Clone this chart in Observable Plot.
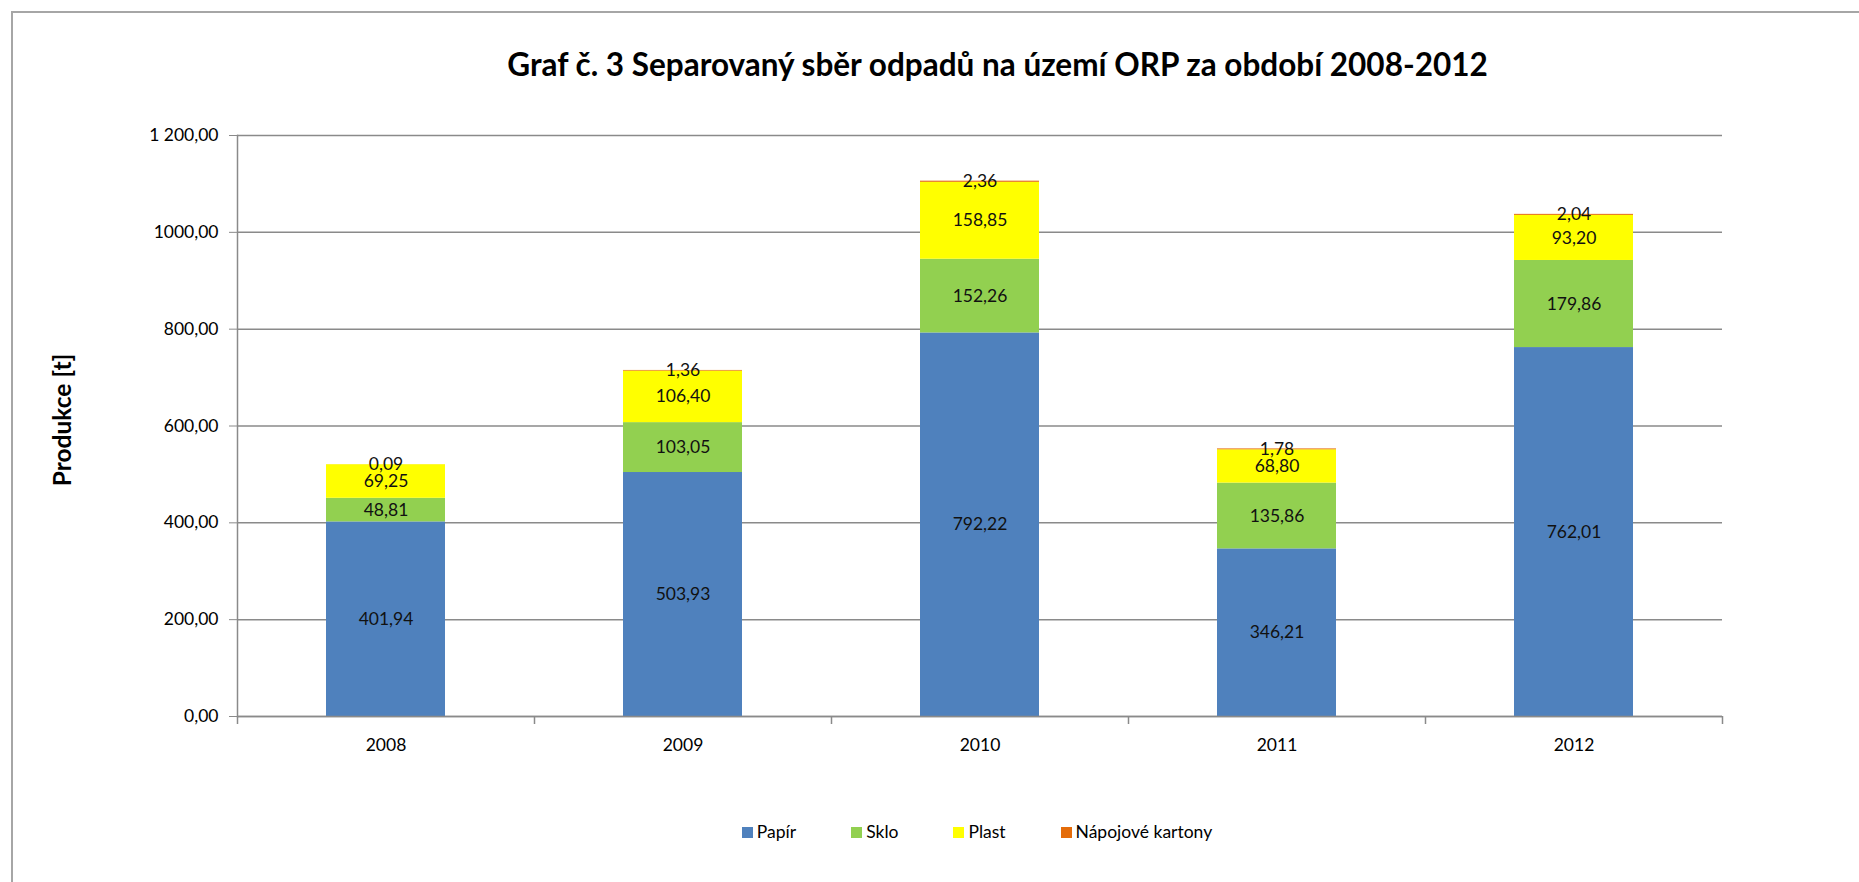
<!DOCTYPE html>
<html><head><meta charset="utf-8">
<script src="https://cdn.jsdelivr.net/npm/d3@7"></script>
<script src="https://cdn.jsdelivr.net/npm/@observablehq/plot@0.6"></script>
<style>
body{margin:0;background:#fff;overflow:hidden;font-family:Lato,sans-serif;color:#000;}
#wrap{position:relative;width:1859px;height:882px;overflow:hidden;}
#border{position:absolute;left:11px;top:11px;width:2000px;height:1000px;border-left:2px solid #a6a6a6;border-top:2px solid #a6a6a6;}
#title{position:absolute;left:0;width:1995px;top:45px;text-align:center;font-weight:bold;font-size:31.5px;line-height:38px;color:#000;}
#chart{position:absolute;left:0;top:0;}
#legend{position:absolute;top:820px;left:0;width:1954px;display:flex;justify-content:center;gap:55px;font-size:17.5px;line-height:24px;}
#legend .item{display:flex;align-items:center;gap:4px;}
#legend .sw{width:11px;height:11px;display:inline-block;}
</style>
</head><body>
<div id="wrap">
  <div id="border"></div>
  <div id="title">Graf č. 3 Separovaný sběr odpadů na území ORP za období 2008-2012</div>
  <div id="chart"></div>
  <div id="legend"></div>
</div>
<script>
const years = ["2008", "2009", "2010", "2011", "2012"];
const seriesNames = ["Papír", "Sklo", "Plast", "Nápojové kartony"];
const seriesColors = ["#4F81BD", "#92D050", "#FFFF00", "#E46C0A"];
const papir = [401.94, 503.93, 792.22, 346.21, 762.01];
const sklo = [48.81, 103.05, 152.26, 135.86, 179.86];
const plast = [69.25, 106.40, 158.85, 68.80, 93.20];
const kartony = [0.09, 1.36, 2.36, 1.78, 2.04];
const yTicks = [0, 200, 400, 600, 800, 1000, 1200];
const yTickLabels = ["0,00", "200,00", "400,00", "600,00", "800,00", "1000,00", "1 200,00"];
const yLabel = "Produkce [t]";

const seriesValues = [papir, sklo, plast, kartony];
const rows = [];
years.forEach((yr, j) => {
  let acc = 0;
  seriesNames.forEach((s, i) => {
    const v = seriesValues[i][j];
    rows.push({year: yr, series: s, value: v, lo: acc, hi: acc + v, mid: acc + v / 2});
    acc += v;
  });
});
const fmt = v => d3.format(".2f")(v).replace(".", ",");

const W = 1859, H = 770, mL = 237, mR = 137, mT = 135, mB = 54;
const step = (W - mL - mR) / years.length;
const gray = "#8a8a8a";

const chart = Plot.plot({
  width: W, height: H,
  marginLeft: mL, marginRight: mR, marginTop: mT, marginBottom: mB,
  style: {fontFamily: "Lato, sans-serif", fontSize: "17.5px", color: "#000", background: "transparent"},
  x: {domain: years, paddingInner: 0.6, paddingOuter: 0.3},
  y: {domain: [0, 1200]},
  color: {domain: seriesNames, range: seriesColors},
  marks: [
    Plot.gridY(yTicks, {stroke: gray, strokeOpacity: 1, strokeWidth: 1.5}),
    Plot.barY(rows, {x: "year", y1: "lo", y2: "hi", fill: "series"}),
    Plot.text(rows, {x: "year", y: "mid", text: d => fmt(d.value), fontSize: 17.5, fill: "#111"}),
    Plot.ruleY([0], {stroke: gray, strokeWidth: 1.5}),
    Plot.frame({anchor: "left", stroke: gray, strokeWidth: 1.5}),
    Plot.ruleX(years, {x: d => d, y1: 0, y2: 0, dx: -step / 2, insetBottom: -8, stroke: gray, strokeWidth: 1.5}),
    Plot.ruleX(years.slice(-1), {x: d => d, y1: 0, y2: 0, dx: step / 2, insetBottom: -8, stroke: gray, strokeWidth: 1.5}),
    Plot.axisY(yTicks, {tickFormat: (d) => yTickLabels[yTicks.indexOf(d)], tickSize: 8, tickPadding: 11, fontSize: 17.5, stroke: gray, color: "#000", label: null}),
    Plot.axisX({tickSize: 0, tickPadding: 22, fontSize: 17.5, color: "#000", label: null}),
    Plot.text([yLabel], {frameAnchor: "left", textAnchor: "middle", dx: -174, dy: -6, rotate: -90, text: d => d, fontWeight: "bold", fontSize: 24.5, fill: "#000"})
  ]
});
document.getElementById("chart").appendChild(chart);

const legend = document.getElementById("legend");
seriesNames.forEach((s, i) => {
  const it = document.createElement("div");
  it.className = "item";
  const sw = document.createElement("span");
  sw.className = "sw";
  sw.style.background = seriesColors[i];
  const tx = document.createElement("span");
  tx.textContent = s;
  it.appendChild(sw); it.appendChild(tx);
  legend.appendChild(it);
});
</script>
</body></html>
